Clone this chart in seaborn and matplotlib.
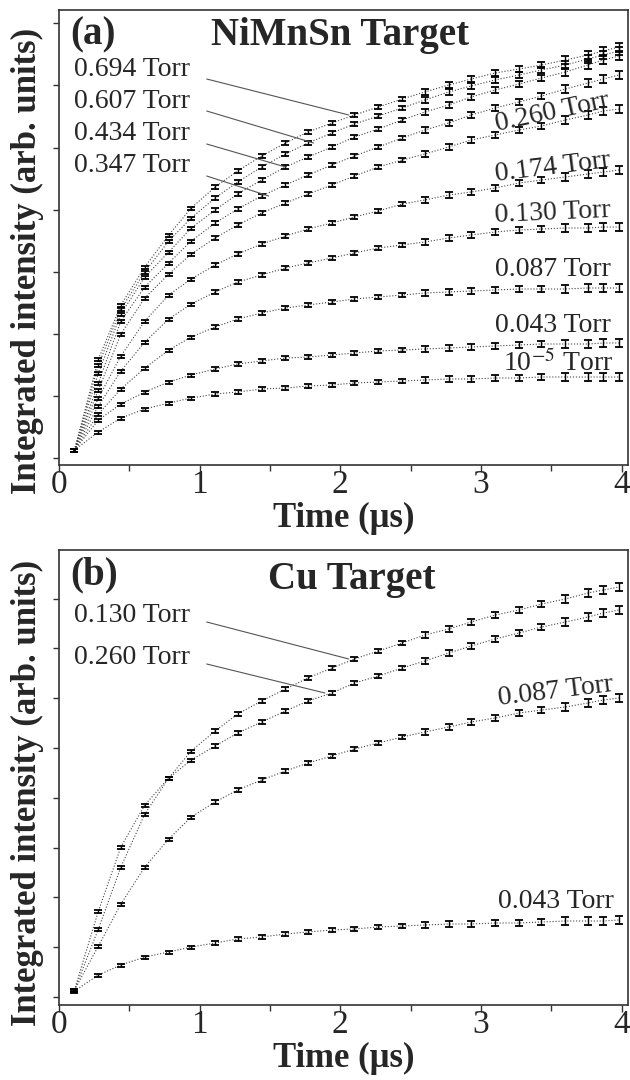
import numpy as np
import pandas as pd
import seaborn as sns
import matplotlib
matplotlib.use("Agg")
import matplotlib.pyplot as plt
from matplotlib.ticker import MultipleLocator, NullFormatter

# time axis (us)
time = [0.11, 0.28, 0.44, 0.61, 0.78, 0.94, 1.11, 1.27, 1.44, 1.61, 1.77, 1.94, 2.10,
        2.27, 2.44, 2.60, 2.77, 2.93, 3.10, 3.27, 3.43, 3.60, 3.76, 3.87, 3.98]

# (a) NiMnSn target, integrated intensity (arb. units)
ni_1e5 = [8, 26, 40, 49, 55, 60, 64, 66, 69, 70, 72, 73, 75, 76, 77, 78, 79, 79, 80, 80, 81, 81, 81, 81, 81]
ni_043 = [8, 38, 54, 66, 76, 83, 89, 94, 97, 100, 101, 103, 105, 107, 108, 109, 110, 111, 112, 113, 114, 114, 114, 115, 115]
ni_087 = [8, 44, 69, 90, 108, 121, 131, 139, 145, 150, 153, 156, 159, 161, 163, 165, 166, 167, 168, 169, 169, 169, 170, 170, 170]
ni_130 = [8, 52, 87, 116, 139, 154, 166, 176, 183, 190, 195, 200, 205, 210, 213, 216, 220, 223, 226, 228, 229, 230, 230, 231, 231]
ni_174 = [8, 60, 102, 137, 163, 179, 193, 204, 214, 222, 229, 235, 241, 247, 254, 258, 263, 266, 270, 275, 278, 281, 284, 286, 288]
ni_260 = [8, 68, 124, 160, 184, 204, 220, 233, 245, 255, 264, 273, 282, 291, 298, 304, 311, 318, 323, 328, 332, 338, 343, 347, 349]
ni_347 = [8, 75, 137, 171, 195, 217, 235, 249, 262, 273, 283, 293, 302, 311, 320, 328, 335, 343, 350, 356, 362, 369, 375, 379, 383]
ni_434 = [8, 85, 144, 181, 206, 230, 248, 264, 278, 291, 301, 311, 321, 329, 338, 346, 353, 361, 368, 374, 380, 386, 393, 398, 402]
ni_607 = [8, 93, 149, 186, 217, 240, 260, 276, 291, 304, 315, 325, 334, 342, 350, 358, 366, 372, 378, 383, 388, 393, 399, 403, 407]
ni_694 = [8, 99, 153, 191, 223, 250, 271, 287, 302, 315, 326, 335, 343, 351, 359, 366, 373, 379, 385, 389, 393, 398, 403, 407, 411]
err_a = [1.5, 1.5, 1.5, 1.5, 1.5, 1.5, 1.6, 1.7, 1.8, 1.9, 2.0, 2.1, 2.2, 2.3, 2.4, 2.6, 2.8, 3.0, 3.1, 3.3, 3.4, 3.6, 3.8, 4.0, 4.0]

# (b) Cu target
cu_043 = [6, 22, 32, 40, 45, 50, 54, 58, 60, 63, 65, 67, 68, 70, 71, 72, 73, 73, 74, 74, 75, 76, 76, 76, 77]
cu_087 = [7, 51, 93, 130, 158, 180, 195, 207, 217, 226, 234, 241, 248, 254, 260, 265, 270, 275, 279, 284, 287, 290, 294, 297, 299]
cu_130 = [7, 86, 150, 192, 219, 246, 266, 283, 296, 308, 319, 329, 338, 346, 354, 362, 368, 375, 382, 387, 393, 398, 404, 407, 410]
cu_260 = [7, 68, 130, 183, 219, 237, 251, 264, 275, 286, 296, 304, 314, 321, 329, 336, 344, 351, 358, 364, 370, 375, 380, 384, 387]
err_b = [1.5, 1.5, 1.5, 1.5, 1.5, 1.5, 1.6, 1.7, 1.8, 1.9, 2.0, 2.1, 2.2, 2.3, 2.4, 2.6, 2.8, 3.0, 3.1, 3.3, 3.4, 3.6, 3.8, 4.0, 4.0]

pressures_a = ["10^-5", "0.043", "0.087", "0.130", "0.174", "0.260", "0.347", "0.434", "0.607", "0.694"]
series_a = [ni_1e5, ni_043, ni_087, ni_130, ni_174, ni_260, ni_347, ni_434, ni_607, ni_694]
pressures_b = ["0.043", "0.087", "0.130", "0.260"]
series_b = [cu_043, cu_087, cu_130, cu_260]

sns.set_theme(style="ticks")
plt.rcParams["font.family"] = ["Liberation Serif", "DejaVu Serif"]
plt.rcParams["mathtext.fontset"] = "stix"

fig = plt.figure(figsize=(6.3, 10.8), dpi=100)
ax_a = fig.add_axes([59/630, 615/1080, 569/630, 455/1080])
ax_b = fig.add_axes([59/630, 75/1080, 569/630, 455/1080])


def long_df(names, series):
    rows = []
    for name, vals in zip(names, series):
        for t, v in zip(time, vals):
            rows.append({"time": t, "intensity": v, "pressure": name})
    return pd.DataFrame(rows)


def draw_panel(ax, names, series, err, ylab_y):
    df = long_df(names, series)
    sns.lineplot(data=df, x="time", y="intensity", hue="pressure",
                 palette=["#444444"] * len(names), linewidth=0.8, linestyle=":",
                 legend=False, ax=ax)
    for vals in series:
        ax.errorbar(time, vals, yerr=err, fmt="none", ecolor="black",
                    elinewidth=1.0, capsize=3.0, capthick=1.3)
    ax.set_xlim(0, 4.045)
    ax.xaxis.set_major_locator(MultipleLocator(1))
    ax.xaxis.set_minor_locator(MultipleLocator(0.5))
    ax.yaxis.set_minor_locator(plt.NullLocator())
    ax.yaxis.set_major_formatter(NullFormatter())
    ax.tick_params(axis="both", which="both", direction="out", width=1.0, color="#333333")
    ax.tick_params(axis="x", which="major", length=5, labelsize=24, pad=-2)
    ax.tick_params(axis="x", which="minor", length=4)
    ax.tick_params(axis="y", length=4)
    for s in ax.spines.values():
        s.set_linewidth(1.2)
        s.set_color("#333333")
    ax.set_xlabel("Time (μs)", fontsize=25, fontweight="bold", labelpad=2)
    ax.set_ylabel("Integrated intensity (arb. units)", fontsize=25, fontweight="bold")
    ax.yaxis.set_label_coords(-0.027, ylab_y)


draw_panel(ax_a, pressures_a, series_a, err_a, 0.448)
ax_a.set_ylim(-7, 448)
ax_a.yaxis.set_major_locator(MultipleLocator(62.1))
ax_a.text(0.02, 0.985, "(a)", transform=ax_a.transAxes, fontsize=28, fontweight="bold", va="top")
ax_a.text(0.494, 0.985, "NiMnSn Target", transform=ax_a.transAxes, fontsize=28, fontweight="bold",
          va="top", ha="center")

# left-hand labels with leader lines (label y, end time, end value)
left_a = [("0.694 Torr", 389, 2.06, ni_694[12]),
          ("0.607 Torr", 357, 1.81, ni_607[10]),
          ("0.434 Torr", 324, 1.61, ni_434[9]),
          ("0.347 Torr", 292, 1.49, ni_347[8])]
for txt, ly, tx, ty in left_a:
    ax_a.text(0.11, ly, txt, fontsize=20, va="center", ha="left")
    ax_a.plot([1.05, tx], [ly - 10, ty], color="#555555", lw=0.8)

right_a = [("0.260 Torr", 345, 12), ("0.174 Torr", 291, 7), ("0.130 Torr", 245, 2.5),
           ("0.087 Torr", 188, 0), ("0.043 Torr", 133, 0)]
for txt, ly, rot in right_a:
    ax_a.text(3.51, ly, txt, fontsize=20, va="center", ha="center", rotation=rot)
ax_a.text(3.55, 95, r"10$^{-5}$ Torr", fontsize=20, va="center", ha="center")

draw_panel(ax_b, pressures_b, series_b, err_b, 0.466)
ax_b.set_ylim(-8, 447)
ax_b.yaxis.set_major_locator(MultipleLocator(49.8))
ax_b.text(0.02, 0.985, "(b)", transform=ax_b.transAxes, fontsize=28, fontweight="bold", va="top")
ax_b.text(0.515, 0.975, "Cu Target", transform=ax_b.transAxes, fontsize=28, fontweight="bold",
          va="top", ha="center")
left_b = [("0.130 Torr", 382, 2.06, cu_130[12]), ("0.260 Torr", 340, 1.89, cu_260[11])]
for txt, ly, tx, ty in left_b:
    ax_b.text(0.11, ly, txt, fontsize=20, va="center", ha="left")
    ax_b.plot([1.05, tx], [ly - 7, ty], color="#555555", lw=0.8)
ax_b.text(3.53, 306, "0.087 Torr", fontsize=20, va="center", ha="center", rotation=7)
ax_b.text(3.53, 96, "0.043 Torr", fontsize=20, va="center", ha="center")

fig.savefig("out.png", dpi=100)
